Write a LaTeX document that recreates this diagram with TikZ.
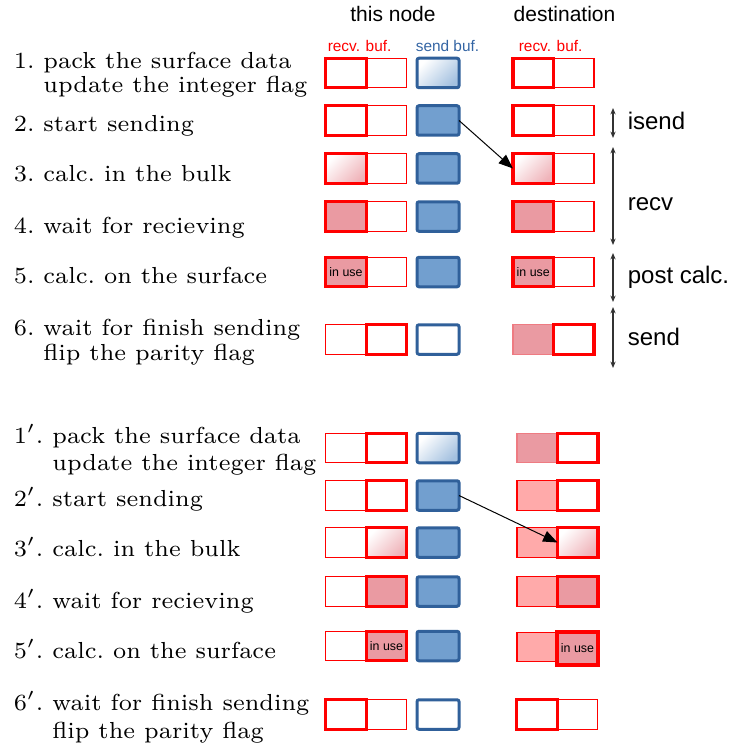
\documentclass[tikz,border=0pt]{standalone}
\usepackage{graphicx}
\usepackage{fontspec}
\newfontfamily\labelfont{Liberation Sans}
\usetikzlibrary{arrows.meta}

\definecolor{bufred}{HTML}{FF0000}
\definecolor{sendfill}{HTML}{729FCF}
\definecolor{sendline}{HTML}{30609A}
\definecolor{sendtext}{HTML}{3465A4}
\definecolor{usedpink}{HTML}{EA9AA2}
\definecolor{recvpink}{HTML}{FFAAAA}
\definecolor{annot}{HTML}{333333}

% step descriptions: the 7pt optical size, brought down to 5.8pt
\newcommand\steptxt[1]{\scalebox{0.8286}{\fontsize{7}{7.5}\selectfont\frenchspacing #1}}

\tikzset{
  buf/.style={rectangle, inner sep=0pt, outer sep=0pt,
    minimum width=10.125pt, minimum height=7.375pt},
  thinbuf/.style={buf, draw=bufred, line width=0.3pt},
  thickbuf/.style={buf, draw=bufred, line width=0.8pt},
  usedfill/.style={fill=usedpink},
  recvfill/.style={fill=recvpink},
  gradfill/.style={top color=white, bottom color=usedpink!75, shading angle=45},
  sendbuf/.style={buf, minimum width=10.5pt, draw=sendline,
    line width=0.75pt, rounded corners=0.5pt, fill=sendfill},
  sendempty/.style={sendbuf, fill=white},
  sendgrad/.style={sendbuf, top color=white, bottom color=sendfill!65, shading angle=45},
  inuse/.style={font=\labelfont\fontsize{3.1}{3.5}\selectfont, text=black},
  steptext/.style={anchor=base west, inner sep=0pt},
  headtext/.style={anchor=base, inner sep=0pt, font=\labelfont\fontsize{5.25}{6}\selectfont},
  buftext/.style={anchor=base west, inner sep=0pt, font=\labelfont\fontsize{3.85}{4.5}\selectfont},
  phasetext/.style={anchor=base west, inner sep=0pt, font=\labelfont\fontsize{6}{7}\selectfont},
  phase/.style={annot, line width=0.4pt, {Stealth[length=1.6pt,width=1.3pt]}-{Stealth[length=1.6pt,width=1.3pt]}},
  transfer/.style={black, line width=0.25pt, -{Triangle[length=3.6pt,width=2.8pt]}}
}

\begin{document}
\begin{tikzpicture}[x=0.25pt, y=-0.25pt]
\useasboundingbox (0,0) rectangle (733,748);

% column headings
\node[headtext] (hthis) at (393,22) {this node};
\node[headtext] (hdest) at (564.5,22) {destination};
\node[buftext, text=bufred] (hrecv) at (327,52) {recv. buf.};
\node[buftext, text=sendtext] (hsend) at (415,52) {send buf.};
\node[buftext, text=bufred] (hdrecv) at (518,52) {recv. buf.};

% ---------- first half of the cycle ----------
\node[steptext] (t1a) at (13,68.3) {\steptxt{1. pack the surface data}};
\node[steptext] (t1b) at (13,93) {\steptxt{\hphantom{1.} update the integer flag}};
\node[steptext] (t2) at (13,131.7) {\steptxt{2. start sending}};
\node[steptext] (t3) at (13,181.7) {\steptxt{3. calc. in the bulk}};
\node[steptext] (t4) at (13,233.3) {\steptxt{4. wait for recieving}};
\node[steptext] (t5) at (13,283.3) {\steptxt{5. calc. on the surface}};
\node[steptext] (t6a) at (13,335) {\steptxt{6. wait for finish sending}};
\node[steptext] (t6b) at (13,360) {\steptxt{\hphantom{6.} flip the parity flag}};

% row 1
\node[thinbuf] (a1r) at (386.5,73) {};
\node[thickbuf] (a1l) at (346,73) {};
\node[sendgrad] (a1s) at (438,73) {};
\node[thinbuf] (a1dr) at (573.75,73) {};
\node[thickbuf] (a1dl) at (533.25,73) {};
% row 2
\node[thinbuf] (a2r) at (386.5,120.5) {};
\node[thickbuf] (a2l) at (346,120.5) {};
\node[sendbuf] (a2s) at (438,120.5) {};
\node[thinbuf] (a2dr) at (573.75,120.5) {};
\node[thickbuf] (a2dl) at (533.25,120.5) {};
% row 3
\node[thinbuf] (a3r) at (386.5,168.5) {};
\node[thickbuf, gradfill] (a3l) at (346,168.5) {};
\node[sendbuf] (a3s) at (438,168.5) {};
\node[thinbuf] (a3dr) at (573.75,168.5) {};
\node[thickbuf, gradfill] (a3dl) at (533.25,168.5) {};
% row 4
\node[thinbuf] (a4r) at (386.5,216.5) {};
\node[thickbuf, usedfill] (a4l) at (346,216.5) {};
\node[sendbuf] (a4s) at (438,216.5) {};
\node[thinbuf] (a4dr) at (573.75,216.5) {};
\node[thickbuf, usedfill] (a4dl) at (533.25,216.5) {};
% row 5
\node[thinbuf] (a5r) at (386.5,272) {};
\node[thickbuf, usedfill, inuse] (a5l) at (346,272) {in use};
\node[sendbuf] (a5s) at (438,272) {};
\node[thinbuf] (a5dr) at (573.75,272) {};
\node[thickbuf, usedfill, inuse] (a5dl) at (533.25,272) {in use};
% row 6
\node[thinbuf] (a6l) at (346,339.5) {};
\node[thickbuf] (a6r) at (386.5,339.5) {};
\node[sendempty] (a6s) at (438,339.5) {};
\node[thinbuf, usedfill, draw=usedpink!80!red] (a6dl) at (533.25,339.5) {};
\node[thickbuf] (a6dr) at (573.75,339.5) {};

\draw[transfer] (a2s.east) -- (a3dl.west);

% phases
\coordinate (isendA) at (613,108);  \coordinate (isendB) at (613,138);
\coordinate (recvA) at (613,147);   \coordinate (recvB) at (613,245);
\coordinate (postA) at (613,253);   \coordinate (postB) at (613,302);
\coordinate (sendA) at (613,307);   \coordinate (sendB) at (613,368);
\draw[phase] (isendA) -- (isendB);
\draw[phase] (recvA) -- (recvB);
\draw[phase] (postA) -- (postB);
\draw[phase] (sendA) -- (sendB);
\node[phasetext] (pisend) at (627,130) {isend};
\node[phasetext] (precv) at (627,210) {recv};
\node[phasetext] (ppost) at (627,283) {post calc.};
\node[phasetext] (psend) at (627,345) {send};

% ---------- second half of the cycle ----------
\node[steptext] (u1a) at (13,443.3) {\steptxt{1$'$. pack the surface data}};
\node[steptext] (u1b) at (13,470) {\steptxt{\hphantom{1$'$.} update the integer flag}};
\node[steptext] (u2) at (13,506.7) {\steptxt{2$'$. start sending}};
\node[steptext] (u3) at (13,556.7) {\steptxt{3$'$. calc. in the bulk}};
\node[steptext] (u4) at (13,608.3) {\steptxt{4$'$. wait for recieving}};
\node[steptext] (u5) at (13,658.3) {\steptxt{5$'$. calc. on the surface}};
\node[steptext] (u6a) at (13,710) {\steptxt{6$'$. wait for finish sending}};
\node[steptext] (u6b) at (13,738) {\steptxt{\hphantom{6$'$.} flip the parity flag}};

% row 1'
\node[thinbuf] (b1l) at (346,448) {};
\node[thickbuf] (b1r) at (386.5,448) {};
\node[sendgrad] (b1s) at (438,448) {};
\node[thinbuf, usedfill, draw=usedpink!80!red] (b1dl) at (537.25,448) {};
\node[thickbuf] (b1dr) at (577.75,448) {};
% row 2'
\node[thinbuf] (b2l) at (346,495.5) {};
\node[thickbuf] (b2r) at (386.5,495.5) {};
\node[sendbuf] (b2s) at (438,495.5) {};
\node[thinbuf, recvfill] (b2dl) at (537.25,495.5) {};
\node[thickbuf] (b2dr) at (577.75,495.5) {};
% row 3'
\node[thinbuf] (b3l) at (346,542.5) {};
\node[thickbuf, gradfill] (b3r) at (386.5,542.5) {};
\node[sendbuf] (b3s) at (438,542.5) {};
\node[thinbuf, recvfill] (b3dl) at (537.25,542.5) {};
\node[thickbuf, gradfill] (b3dr) at (577.75,542.5) {};
% row 4'
\node[thinbuf] (b4l) at (346,591.5) {};
\node[thickbuf, usedfill] (b4r) at (386.5,591.5) {};
\node[sendbuf] (b4s) at (438,591.5) {};
\node[thinbuf, recvfill] (b4dl) at (537.25,591.5) {};
\node[thickbuf, usedfill] (b4dr) at (577.75,591.5) {};
% row 5'
\node[thinbuf] (b5l) at (346,646) {};
\node[thickbuf, usedfill, inuse] (b5r) at (386.5,646) {in use};
\node[sendbuf] (b5s) at (438,646) {};
\node[thinbuf, recvfill] (b5dl) at (537.25,647) {};
\node[thickbuf, usedfill, inuse, minimum width=10.25pt, minimum height=8.25pt] (b5dr) at (577.5,648.5) {in use};
% row 6'
\node[thinbuf] (b6r) at (386.5,714.5) {};
\node[thickbuf] (b6l) at (346,714.5) {};
\node[sendempty] (b6s) at (438,714.5) {};
\node[thinbuf] (b6dr) at (577.25,714.5) {};
\node[thickbuf] (b6dl) at (537,714.5) {};

\draw[transfer] (b2s.east) -- (b3dr.west);
\end{tikzpicture}
\end{document}
